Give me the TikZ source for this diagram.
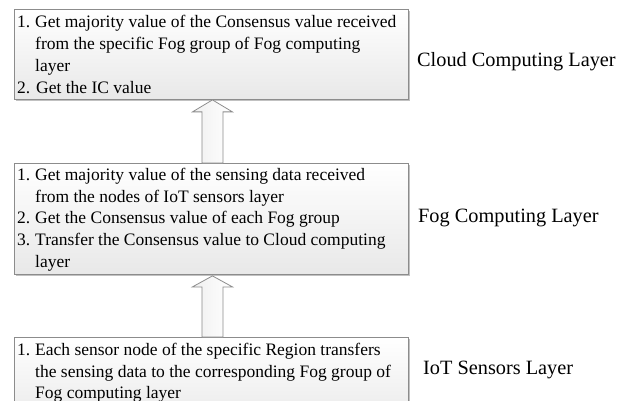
\documentclass[tikz,border=0pt]{standalone}
\usepackage{fontspec}
\setmainfont{Liberation Serif}
\usetikzlibrary{calc,shadows}
\begin{document}
\begin{tikzpicture}[x=1pt,y=-1pt]
\tikzset{
  layerbox/.style={draw=black!45, line width=0.9pt, top color=white, bottom color=black!9,
    minimum width=394pt, anchor=north west, inner sep=0pt,
    drop shadow={shadow xshift=1.2pt, shadow yshift=-1.2pt, fill=black!40, opacity=0.6}},
  boxtext/.style={anchor=base west, inner sep=0pt, font=\fontsize{17.5}{21.7}\selectfont},
  layerlabel/.style={anchor=west, inner sep=0pt, font=\fontsize{20.3}{24}\selectfont},
  arrowshape/.style={draw=black!45, line width=0.8pt, left color=black!6, right color=white, line join=miter}
}
\useasboundingbox (0,0) rectangle (631,401);
\clip (0,0) rectangle (631,401);
\fill[white] (0,0) rectangle (631,401);

\node[layerbox, minimum height=90pt] (cloud) at (14,9) {};
\node[layerbox, minimum height=111pt] (fog) at (14,163) {};
\node[layerbox, minimum height=90pt] (iot) at (14,337) {};

\node[boxtext] (cloudtext) at ($(cloud.north west)+(3,19)$) {\begin{tabular}[t]{@{}p{18pt}@{}l@{}}
1. & Get majority value of the Consensus value received\\
   & from the specific Fog group of Fog computing\\
   & layer\\
\multicolumn{2}{@{}l@{}}{2. Get the IC value}
\end{tabular}};

\node[boxtext] (fogtext) at ($(fog.north west)+(3,17.5)$) {\begin{tabular}[t]{@{}p{18pt}@{}l@{}}
1. & Get majority value of the sensing data received\\
   & from the nodes of IoT sensors layer\\
2. & Get the Consensus value of each Fog group\\
3. & Transfer the Consensus value to Cloud computing\\
   & layer
\end{tabular}};

\node[boxtext] (iottext) at ($(iot.north west)+(3,18.5)$) {\begin{tabular}[t]{@{}p{18pt}@{}l@{}}
1. & Each sensor node of the specific Region transfers\\
   & the sensing data to the corresponding Fog group of\\
   & Fog computing layer
\end{tabular}};

\node[layerlabel] (cloudlabel) at (417,62) {Cloud Computing Layer};
\node[layerlabel] (foglabel) at (418,218) {Fog Computing Layer};
\node[layerlabel] (iotlabel) at (423,370) {IoT Sensors Layer};

\draw[arrowshape] ($(cloud.south)+(1,0)$) -- ($(cloud.south)+(21,12)$) -- ($(cloud.south)+(11.5,12)$)
  -- ($(fog.north)+(11.5,0)$) -- ($(fog.north)+(-9.5,0)$) -- ($(cloud.south)+(-9.5,12)$)
  -- ($(cloud.south)+(-19,12)$) -- cycle;
\draw[arrowshape] ($(fog.south)+(1,1)$) -- ($(fog.south)+(21,12)$) -- ($(fog.south)+(11.5,12)$)
  -- ($(iot.north)+(11.5,0)$) -- ($(iot.north)+(-9.5,0)$) -- ($(fog.south)+(-9.5,12)$)
  -- ($(fog.south)+(-19,12)$) -- cycle;
\end{tikzpicture}
\end{document}
